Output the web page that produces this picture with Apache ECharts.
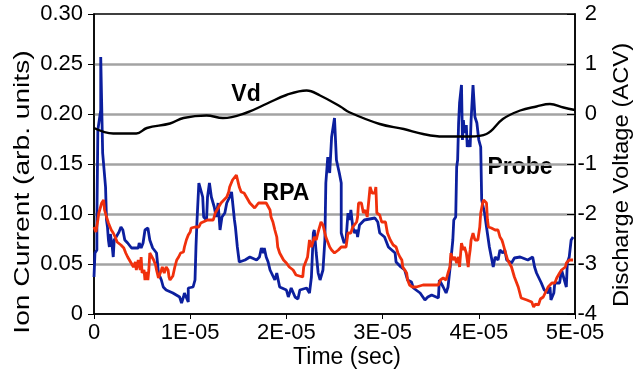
<!DOCTYPE html>
<html>
<head>
<meta charset="utf-8">
<script src="https://cdn.jsdelivr.net/npm/echarts@6/dist/echarts.min.js"></script>
<style>
  html, body { margin: 0; padding: 0; background: #fff; }
  #chart { width: 636px; height: 373px; }
</style>
</head>
<body>
<div id="chart"></div>
<script>
// time values are in units of 1E-05 sec
var xTicks = [0, 1, 2, 3, 4, 5];

// Probe ion current (blue)
var probeT = [0.00, 0.02, 0.01, 0.03, 0.03, 0.04, 0.07, 0.07, 0.08, 0.09, 0.09, 0.11, 0.12, 0.13, 0.14, 0.15, 0.16, 0.17, 0.19, 0.20, 0.21, 0.23, 0.26, 0.28, 0.30, 0.32, 0.35, 0.39, 0.46, 0.47, 0.49, 0.51, 0.53, 0.56, 0.58, 0.61, 0.65, 0.67, 0.70, 0.72, 0.75, 0.82, 0.89, 0.91, 0.93, 0.94, 0.98, 0.98, 1.03, 1.05, 1.06, 1.07, 1.09, 1.09, 1.13, 1.14, 1.17, 1.18, 1.20,
  1.22, 1.25, 1.27, 1.29, 1.31, 1.33, 1.36, 1.38, 1.41, 1.43, 1.44, 1.46, 1.47, 1.49, 1.51, 1.57, 1.62, 1.69, 1.72, 1.74, 1.76, 1.77, 1.79, 1.81, 1.83, 1.88, 1.90, 1.93, 2.00, 2.02, 2.05, 2.09, 2.12, 2.14, 2.21, 2.24, 2.26, 2.28, 2.29, 2.31, 2.33, 2.35, 2.38, 2.40, 2.41, 2.43, 2.45, 2.47,
  2.50, 2.52, 2.55, 2.57, 2.57, 2.60, 2.62, 2.64, 2.66, 2.67, 2.69, 2.71, 2.73, 2.74, 2.76, 2.81, 2.92, 2.95, 2.97, 3.02, 3.04, 3.06, 3.13, 3.14, 3.19, 3.23, 3.26, 3.30, 3.32, 3.39, 3.44, 3.47, 3.51, 3.58, 3.59, 3.63, 3.66, 3.68, 3.71,
  3.72, 3.73, 3.74, 3.76, 3.77, 3.78, 3.79, 3.80, 3.82, 3.83, 3.84, 3.85, 3.87, 3.88, 3.90, 3.91, 3.92, 3.94, 3.96, 3.96, 3.98, 4.00, 4.02, 4.03, 4.06, 4.08, 4.11, 4.15, 4.17, 4.20, 4.22, 4.25, 4.27, 4.29, 4.34, 4.37, 4.43, 4.51, 4.56, 4.58, 4.60, 4.65, 4.68, 4.72, 4.74, 4.75, 4.78, 4.79, 4.84, 4.86, 4.88, 4.91, 4.92, 4.94, 4.96, 4.98];
var probeI = [0.037, 0.037, 0.061, 0.064, 0.094, 0.184, 0.204, 0.257, 0.259, 0.259, 0.161, 0.159, 0.127, 0.094, 0.087, 0.074, 0.067, 0.080, 0.067, 0.057, 0.074, 0.077, 0.082, 0.087, 0.084, 0.074, 0.071, 0.066, 0.066, 0.071, 0.066, 0.071, 0.084, 0.086, 0.074, 0.066, 0.061, 0.041, 0.034, 0.027, 0.024, 0.021, 0.017, 0.011, 0.017, 0.021, 0.012, 0.026, 0.027, 0.034, 0.067, 0.092, 0.094, 0.131, 0.117, 0.097, 0.094, 0.117, 0.131,
  0.117, 0.107, 0.097, 0.111, 0.084, 0.097, 0.101, 0.111, 0.117, 0.122, 0.120, 0.094, 0.087, 0.067, 0.052, 0.054, 0.057, 0.054, 0.057, 0.066, 0.061, 0.066, 0.057, 0.052, 0.044, 0.034, 0.041, 0.027, 0.024, 0.017, 0.026, 0.017, 0.015, 0.024, 0.026, 0.021, 0.037, 0.081, 0.084, 0.061, 0.041, 0.034, 0.044, 0.074, 0.131, 0.157, 0.141, 0.177,
  0.196, 0.154, 0.141, 0.131, 0.081, 0.071, 0.074, 0.101, 0.094, 0.104, 0.087, 0.081, 0.084, 0.077, 0.089, 0.094, 0.096, 0.092, 0.081, 0.077, 0.072, 0.067, 0.061, 0.052, 0.047, 0.044, 0.034, 0.032, 0.026, 0.021, 0.014, 0.017, 0.019, 0.016, 0.034, 0.027, 0.021, 0.027, 0.054,
  0.054, 0.074, 0.094, 0.097, 0.147, 0.154, 0.191, 0.211, 0.229, 0.174, 0.194, 0.181, 0.189, 0.167, 0.174, 0.167, 0.194, 0.229, 0.227, 0.197, 0.191, 0.174, 0.167, 0.114, 0.101, 0.087, 0.067, 0.047, 0.057, 0.054, 0.064, 0.061, 0.064, 0.054, 0.051, 0.056, 0.057, 0.054, 0.057, 0.047, 0.041, 0.031, 0.024, 0.021, 0.027, 0.014, 0.021, 0.031, 0.031, 0.044, 0.044, 0.027, 0.051, 0.057, 0.074, 0.077];

// RPA ion current (red)
var rpaT = [0.00, 0.02, 0.03, 0.04, 0.05, 0.08, 0.10, 0.11, 0.13, 0.15, 0.18, 0.20, 0.22, 0.24, 0.26, 0.28, 0.31, 0.33, 0.35, 0.38, 0.41, 0.43, 0.44, 0.46, 0.48, 0.49, 0.50, 0.52, 0.53, 0.55, 0.56, 0.57, 0.58, 0.60, 0.62, 0.64, 0.65, 0.67, 0.69, 0.70, 0.71, 0.73, 0.75, 0.77, 0.78, 0.79, 0.82, 0.84, 0.86, 0.88, 0.90, 0.93, 0.94, 0.96, 0.98, 1.00, 1.01, 1.05, 1.09, 1.11, 1.13, 1.18, 1.24,
  1.26, 1.29, 1.32, 1.35, 1.38, 1.40, 1.41, 1.44, 1.46, 1.48, 1.49, 1.51, 1.53, 1.56, 1.58, 1.62, 1.64, 1.67, 1.69, 1.71, 1.74, 1.79, 1.83, 1.84, 1.86, 1.88, 1.90, 1.91, 1.93, 1.97, 2.00, 2.03, 2.07, 2.10, 2.12, 2.17, 2.18, 2.22, 2.24, 2.26, 2.29, 2.31, 2.33, 2.36, 2.38, 2.40, 2.41, 2.45, 2.47,
  2.50, 2.54, 2.57, 2.59, 2.62, 2.64, 2.67, 2.69, 2.73, 2.74, 2.75, 2.78, 2.80, 2.82, 2.84, 2.85, 2.87, 2.89, 2.92, 2.93, 2.94, 2.97, 2.99, 3.03, 3.05, 3.08, 3.11, 3.14, 3.16, 3.18, 3.20, 3.21, 3.23, 3.25, 3.26, 3.28, 3.31, 3.35, 3.42, 3.58, 3.60, 3.63, 3.66, 3.68, 3.70,
  3.71, 3.73, 3.75, 3.77, 3.79, 3.80, 3.82, 3.84, 3.85, 3.87, 3.89, 3.90, 3.91, 3.92, 3.94, 3.96, 3.99, 4.01, 4.02, 4.04, 4.05, 4.07, 4.08, 4.09, 4.10, 4.13, 4.17, 4.20, 4.22, 4.24, 4.25, 4.27, 4.29, 4.30, 4.34, 4.37, 4.41, 4.44, 4.50, 4.55, 4.57, 4.59, 4.62, 4.64, 4.67, 4.69, 4.72, 4.76, 4.79, 4.81, 4.84, 4.86, 4.88, 4.90, 4.91, 4.94, 4.98];
var rpaI = [0.087, 0.082, 0.082, 0.094, 0.101, 0.111, 0.114, 0.104, 0.097, 0.091, 0.084, 0.081, 0.077, 0.072, 0.071, 0.069, 0.066, 0.061, 0.057, 0.052, 0.047, 0.052, 0.044, 0.054, 0.044, 0.057, 0.041, 0.044, 0.034, 0.042, 0.034, 0.044, 0.061, 0.062, 0.054, 0.049, 0.044, 0.036, 0.036, 0.044, 0.047, 0.041, 0.047, 0.044, 0.037, 0.034, 0.038, 0.047, 0.054, 0.057, 0.061, 0.062, 0.067, 0.074, 0.079, 0.082, 0.086, 0.087, 0.087, 0.091, 0.092, 0.094, 0.094,
  0.101, 0.106, 0.111, 0.114, 0.117, 0.122, 0.127, 0.134, 0.135, 0.139, 0.137, 0.127, 0.122, 0.121, 0.119, 0.111, 0.109, 0.106, 0.107, 0.111, 0.111, 0.111, 0.104, 0.097, 0.092, 0.084, 0.077, 0.067, 0.061, 0.054, 0.051, 0.047, 0.044, 0.039, 0.037, 0.037, 0.047, 0.057, 0.074, 0.067, 0.077, 0.074, 0.082, 0.092, 0.089, 0.081, 0.077, 0.067, 0.064,
  0.061, 0.064, 0.067, 0.069, 0.067, 0.081, 0.081, 0.087, 0.092, 0.097, 0.111, 0.111, 0.101, 0.104, 0.097, 0.107, 0.127, 0.121, 0.121, 0.127, 0.101, 0.099, 0.092, 0.092, 0.081, 0.074, 0.069, 0.067, 0.061, 0.057, 0.054, 0.047, 0.047, 0.041, 0.034, 0.029, 0.027, 0.027, 0.029, 0.029, 0.034, 0.036, 0.034, 0.041, 0.047,
  0.061, 0.054, 0.057, 0.051, 0.057, 0.047, 0.071, 0.064, 0.067, 0.061, 0.047, 0.057, 0.064, 0.074, 0.081, 0.074, 0.074, 0.087, 0.101, 0.111, 0.114, 0.116, 0.111, 0.094, 0.087, 0.086, 0.084, 0.084, 0.077, 0.074, 0.071, 0.064, 0.057, 0.054, 0.047, 0.037, 0.027, 0.016, 0.014, 0.012, 0.007, 0.010, 0.009, 0.015, 0.017, 0.021, 0.027, 0.031, 0.031, 0.036, 0.041, 0.044, 0.044, 0.047, 0.051, 0.054, 0.054];

// Discharge voltage Vd (black, right axis)
var vdT = [0.00, 0.20, 0.44, 0.55, 0.79, 0.93, 1.17, 1.34, 1.59, 1.80, 2.00, 2.21, 2.35, 2.56, 2.66, 2.97, 3.22, 3.42, 3.63, 3.91, 4.08, 4.25, 4.43, 4.60, 4.74, 4.88, 5.00];
var vdV = [-0.28, -0.39, -0.39, -0.28, -0.19, -0.08, -0.03, -0.08, 0.03, 0.21, 0.38, 0.47, 0.37, 0.15, 0.03, -0.20, -0.30, -0.40, -0.45, -0.45, -0.40, -0.10, 0.07, 0.15, 0.20, 0.13, 0.08];

function pairs(xs, ys) {
  return xs.map(function (x, i) { return [x, ys[i]]; });
}

var FONT = '"Liberation Sans", Arial, sans-serif';
var chart = echarts.init(document.getElementById('chart'));

chart.setOption({
  animation: false,
  backgroundColor: '#fff',
  textStyle: { fontFamily: FONT, color: '#000' },
  grid: { left: 94, right: 61, top: 14, bottom: 59, show: true, borderColor: '#000', borderWidth: 1.5, backgroundColor: 'transparent' },
  xAxis: {
    type: 'value', min: xTicks[0], max: xTicks[xTicks.length - 1], interval: 1,
    axisLine: { show: true, onZero: false, lineStyle: { color: '#000', width: 1.5 } },
    axisTick: { show: true, length: 5, lineStyle: { color: '#000' } },
    axisLabel: { fontSize: 22, color: '#000', margin: 8, fontFamily: FONT,
      formatter: function (v) { return v === 0 ? '0' : Math.round(v) + 'E-05'; } },
    splitLine: { show: false }
  },
  yAxis: [{
    type: 'value', min: 0, max: 0.3, interval: 0.05,
    axisLine: { show: true, lineStyle: { color: '#000', width: 1.5 } },
    axisTick: { show: true, length: 6, lineStyle: { color: '#000' } },
    axisLabel: { fontSize: 22, color: '#000', margin: 11, fontFamily: FONT,
      formatter: function (v) { return v === 0 ? '0' : v.toFixed(2); } },
    splitLine: { show: true, showMinLine: false, showMaxLine: false, lineStyle: { color: '#a3a3a3', width: 2.5 } }
  }, {
    type: 'value', position: 'right', min: -4, max: 2, interval: 1,
    axisLine: { show: true, lineStyle: { color: '#000', width: 1.5 } },
    axisTick: { show: true, inside: true, length: 8, lineStyle: { color: '#000' } },
    axisLabel: { fontSize: 22, color: '#000', margin: 22, align: 'right', fontFamily: FONT },
    splitLine: { show: false }
  }],
  series: [{
    name: 'Probe', type: 'line', yAxisIndex: 0, symbol: 'none',
    lineStyle: { color: '#0c1f9e', width: 2.8 },
    data: pairs(probeT, probeI)
  }, {
    name: 'RPA', type: 'line', yAxisIndex: 0, symbol: 'none',
    lineStyle: { color: '#f0300c', width: 2.8 },
    data: pairs(rpaT, rpaI)
  }, {
    name: 'Vd', type: 'line', yAxisIndex: 1, symbol: 'none', smooth: 0.4,
    lineStyle: { color: '#000', width: 2.4 },
    data: pairs(vdT, vdV)
  }],
  graphic: [
    { type: 'text', x: 23, y: 192, rotation: Math.PI / 2, scaleX: 1.28,
      style: { text: 'Ion Current (arb. units)', fontSize: 22, fontFamily: FONT, fill: '#000', align: 'center', verticalAlign: 'middle' } },
    { type: 'text', x: 622, y: 175, rotation: Math.PI / 2, scaleX: 1.08,
      style: { text: 'Discharge Voltage (ACV)', fontSize: 22, fontFamily: FONT, fill: '#000', align: 'center', verticalAlign: 'middle' } },
    { type: 'text', x: 347, y: 358,
      style: { text: 'Time (sec)', fontSize: 23, fontFamily: FONT, fill: '#000', align: 'center', verticalAlign: 'middle' } },
    { type: 'text', x: 246, y: 95,
      style: { text: 'Vd', fontSize: 23, fontWeight: 'bold', fontFamily: FONT, fill: '#000', align: 'center', verticalAlign: 'middle' } },
    { type: 'text', x: 286, y: 194,
      style: { text: 'RPA', fontSize: 23, fontWeight: 'bold', fontFamily: FONT, fill: '#000', align: 'center', verticalAlign: 'middle' } },
    { type: 'text', x: 520, y: 168,
      style: { text: 'Probe', fontSize: 23, fontWeight: 'bold', fontFamily: FONT, fill: '#000', align: 'center', verticalAlign: 'middle' } }
  ]
});
</script>
</body>
</html>
